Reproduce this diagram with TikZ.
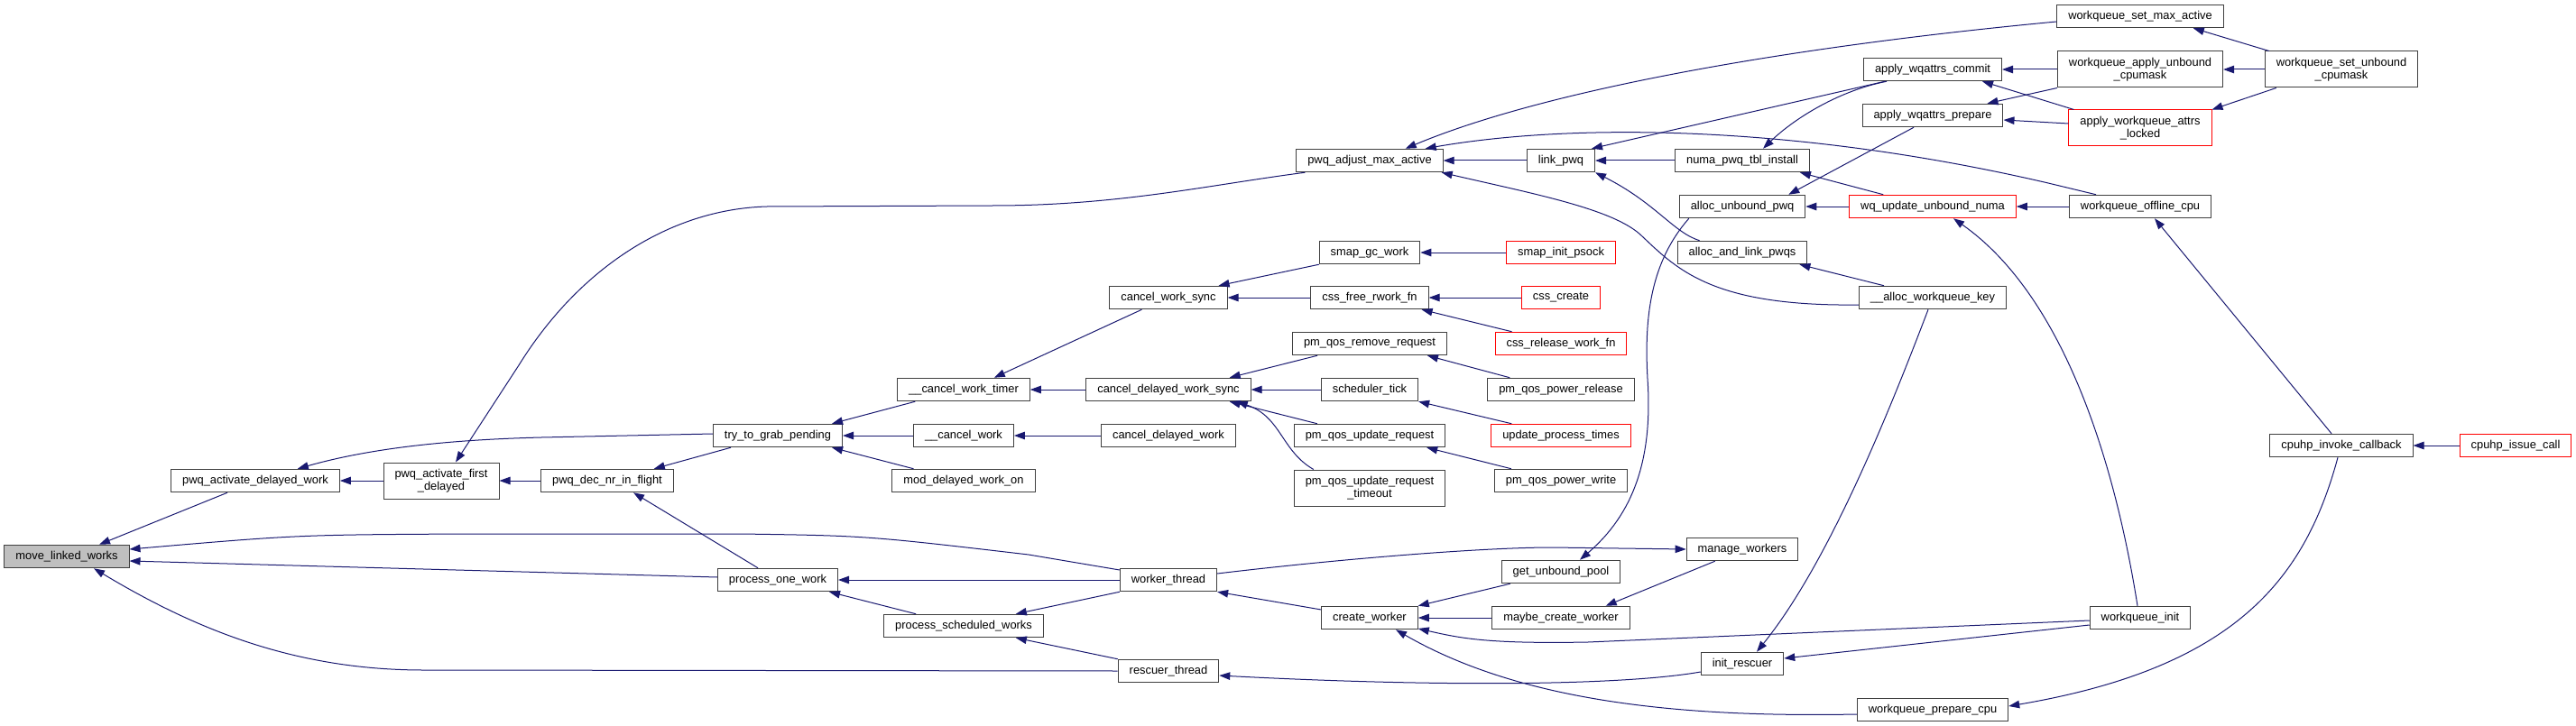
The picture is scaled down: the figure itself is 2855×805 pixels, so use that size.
\documentclass[tikz,border=0pt]{standalone}
\usepackage{fontspec}
\setmainfont{Liberation Sans}
\usetikzlibrary{arrows.meta}
\definecolor{edgeblue}{RGB}{25,25,112}
\definecolor{boxline}{RGB}{64,64,64}
\definecolor{rootfill}{RGB}{191,191,191}
\definecolor{cutred}{RGB}{255,0,0}

\begin{document}
\begin{tikzpicture}[x=1pt, y=-1pt,
  fnbox/.style={draw=boxline, line width=1pt, fill=white, inner xsep=12.5pt, inner ysep=0pt,
    minimum height=25.5pt, font=\fontsize{12.87}{14.5}\selectfont},
  twobox/.style={fnbox, align=center, minimum height=40pt},
  rootbox/.style={fnbox, fill=rootfill},
  redbox/.style={draw=cutred},
  call/.style={edgeblue, line width=1pt, -{Triangle[length=12pt, width=8.5pt]}}]
  \useasboundingbox (0,0) rectangle (2855,805);

  % Functions, one column per rank
  \node[rootbox] (mlw) at (74,617) {move\_linked\_works};

  \node[fnbox] (pad) at (283,533) {pwq\_activate\_delayed\_work};

  \node[twobox] (pafd) at (489,533) {pwq\_activate\_first\\\_delayed};

  \node[fnbox] (pdnif) at (673,533) {pwq\_dec\_nr\_in\_flight};

  \node[fnbox] (ttgp) at (862,483) {try\_to\_grab\_pending};
  \node[fnbox] (pow) at (862,643) {process\_one\_work};

  \node[fnbox] (cwt) at (1068,432) {\_\_cancel\_work\_timer};
  \node[fnbox] (cw) at (1068,483) {\_\_cancel\_work};
  \node[fnbox] (mdwo) at (1068,533) {mod\_delayed\_work\_on};
  \node[fnbox] (psw) at (1068,694) {process\_scheduled\_works};

  \node[fnbox] (cws) at (1295,330) {cancel\_work\_sync};
  \node[fnbox] (cdws) at (1295,432) {cancel\_delayed\_work\_sync};
  \node[fnbox] (cdw) at (1295,483) {cancel\_delayed\_work};
  \node[fnbox] (wt) at (1295,643) {worker\_thread};
  \node[fnbox] (rt) at (1295,744) {rescuer\_thread};

  \node[fnbox] (pama) at (1518,178) {pwq\_adjust\_max\_active};
  \node[fnbox] (sgw) at (1518,280) {smap\_gc\_work};
  \node[fnbox] (cfrf) at (1518,330) {css\_free\_rwork\_fn};
  \node[fnbox] (pqrr) at (1518,381) {pm\_qos\_remove\_request};
  \node[fnbox] (st) at (1518,432) {scheduler\_tick};
  \node[fnbox] (pqur) at (1518,483) {pm\_qos\_update\_request};
  \node[twobox] (pqurt) at (1518,541) {pm\_qos\_update\_request\\\_timeout};
  \node[fnbox] (crw) at (1518,685) {create\_worker};

  \node[fnbox] (lp) at (1730,178) {link\_pwq};
  \node[fnbox, redbox] (sip) at (1730,280) {smap\_init\_psock};
  \node[fnbox, redbox] (cc) at (1730,330) {css\_create};
  \node[fnbox, redbox] (crwf) at (1730,381) {css\_release\_work\_fn};
  \node[fnbox] (pqpr) at (1730,432) {pm\_qos\_power\_release};
  \node[fnbox, redbox] (upt) at (1730,483) {update\_process\_times};
  \node[fnbox] (pqpw) at (1730,533) {pm\_qos\_power\_write};
  \node[fnbox] (gup) at (1730,634) {get\_unbound\_pool};
  \node[fnbox] (mcw) at (1730,685) {maybe\_create\_worker};

  \node[fnbox] (npti) at (1931,178) {numa\_pwq\_tbl\_install};
  \node[fnbox] (aup) at (1931,229) {alloc\_unbound\_pwq};
  \node[fnbox] (aalp) at (1931,280) {alloc\_and\_link\_pwqs};
  \node[fnbox] (mw) at (1931,609) {manage\_workers};
  \node[fnbox] (ir) at (1931,736) {init\_rescuer};

  \node[fnbox] (awc) at (2142,77) {apply\_wqattrs\_commit};
  \node[fnbox] (awp) at (2142,128) {apply\_wqattrs\_prepare};
  \node[fnbox, redbox] (wuun) at (2142,229) {wq\_update\_unbound\_numa};
  \node[fnbox] (awk) at (2142,330) {\_\_alloc\_workqueue\_key};
  \node[fnbox] (wpc) at (2142,787) {workqueue\_prepare\_cpu};

  \node[fnbox] (wsma) at (2372,18) {workqueue\_set\_max\_active};
  \node[twobox] (wauc) at (2372,77) {workqueue\_apply\_unbound\\\_cpumask};
  \node[twobox, redbox] (awal) at (2372,142) {apply\_workqueue\_attrs\\\_locked};
  \node[fnbox] (woc) at (2372,229) {workqueue\_offline\_cpu};
  \node[fnbox] (wi) at (2372,685) {workqueue\_init};

  \node[twobox] (wsuc) at (2595,77) {workqueue\_set\_unbound\\\_cpumask};
  \node[fnbox] (cic) at (2595,494) {cpuhp\_invoke\_callback};

  \node[fnbox, redbox] (cic2) at (2788,494) {cpuhp\_issue\_call};

  % Calls into move_linked_works
  \draw[call] ([xshift=-31pt]pad.south) -- ([xshift=36pt]mlw.north);
  \draw[call] ([yshift=11pt]wt.west) -- (1140,615) .. controls (960,594) .. (820,592) -- (520,592)
    .. controls (330,593) .. ([yshift=8pt]mlw.east);
  \draw[call] ([yshift=3pt]pow.west) -- ([yshift=-5pt]mlw.east);
  \draw[call] (rt.west) -- (470,743) .. controls (330,743) and (220,700) .. ([xshift=30pt]mlw.south);

  % Second and third ranks
  \draw[call] (pafd) -- (pad);
  \draw[call] ([yshift=2pt]ttgp.west) -- (600,485) .. controls (480,488) and (400,500)
    .. ([xshift=-47pt]pad.north east);
  \draw[call] ([xshift=10pt]pama.south west) .. controls (1340,205) and (1240,228) .. (1100,228)
    -- (850,229) .. controls (740,232) and (640,300) .. (575,405) -- ([xshift=16pt]pafd.north);
  \draw[call] (pdnif) -- (pafd);
  \draw[call] ([xshift=20pt]ttgp.south west) -- ([xshift=-22pt]pdnif.north east);
  \draw[call] ([xshift=-22pt]pow.north) -- ([xshift=29pt]pdnif.south);

  % try_to_grab_pending and process_one_work
  \draw[call] ([xshift=20pt]cwt.south west) -- ([xshift=-12pt]ttgp.north east);
  \draw[call] (cw) -- (ttgp);
  \draw[call] ([xshift=24pt]mdwo.north west) -- ([xshift=-12pt]ttgp.south east);
  \draw[call] (wt) -- (pow);
  \draw[call] ([xshift=36pt]psw.north west) -- ([xshift=-10pt]pow.south east);
  \draw[call] (wt.south west) -- ([xshift=-31pt]psw.north east);
  \draw[call] (rt.north west) -- ([xshift=-31pt]psw.south east);

  % Cancel paths
  \draw[call] ([xshift=36pt]cws.south west) -- ([xshift=-40pt]cwt.north east);
  \draw[call] (cdws) -- (cwt);
  \draw[call] (cdw) -- (cw);
  \draw[call] (sgw.south west) -- ([xshift=-10pt]cws.north east);
  \draw[call] (cfrf) -- (cws);
  \draw[call] (sip) -- (sgw);
  \draw[call] (cc) -- (cfrf);
  \draw[call] ([xshift=19pt]crwf.north west) -- ([xshift=-8pt]cfrf.south east);
  \draw[call] ([xshift=28pt]pqrr.south west) -- ([xshift=-24pt]cdws.north east);
  \draw[call] (st) -- (cdws);
  \draw[call] ([xshift=26pt]pqur.north west) -- ([xshift=-24pt]cdws.south east);
  \draw[call] ([xshift=22pt]pqurt.north west) .. controls (1420,500) and (1420,462)
    .. ([xshift=-16pt]cdws.south east);
  \draw[call] ([xshift=25pt]pqpr.north west) -- ([xshift=-22pt]pqrr.south east);
  \draw[call] ([xshift=23pt]upt.north west) -- (st.south east);
  \draw[call] ([xshift=19pt]pqpw.north west) -- ([xshift=-21pt]pqur.south east);

  % pwq_adjust_max_active and the unbound pwq setup
  \draw[call] ([yshift=-6pt]wsma.west) .. controls (1950,55) and (1700,105) .. ([xshift=-42pt]pama.north east);
  \draw[call] ([xshift=30pt]woc.north west) -- (2270,203) .. controls (2000,140) and (1750,135)
    .. ([xshift=-20pt]pama.north east);
  \draw[call] (lp) -- (pama);
  \draw[call] ([yshift=-8pt]awk.west) .. controls (1900,340) and (1860,300) .. (1820,262)
    .. controls (1790,232) and (1700,215) .. ([xshift=-2pt]pama.south east);
  \draw[call] ([xshift=24pt]awc.south west) -- ([xshift=-4pt]lp.north east);
  \draw[call] (npti) -- (lp);
  \draw[call] ([xshift=25pt]aalp.north west) .. controls (1855,258) and (1835,225) .. (lp.south east);
  \draw[call] ([xshift=26pt]awc.south west) .. controls (2040,100) and (1990,130) .. ([xshift=23pt]npti.north);
  \draw[call] ([xshift=38pt]wuun.north west) -- ([xshift=-11pt]npti.south east);
  \draw[call] (wuun) -- (aup);
  \draw[call] ([xshift=-21pt]awp.south) -- ([xshift=-19pt]aup.north east);
  \draw[call] ([xshift=11pt]aup.south west) .. controls (1830,290) and (1822,350) .. (1826,420)
    .. controls (1832,510) and (1810,570) .. ([xshift=21pt]gup.north);
  \draw[call] ([xshift=28pt]awk.north west) -- ([xshift=-9pt]aalp.south east);
  \draw[call] (wauc) -- (awc);
  \draw[call] ([xshift=6pt]awal.north west) -- ([xshift=-22pt]awc.south east);
  \draw[call] (wauc.south west) -- ([xshift=-18pt]awp.north east);
  \draw[call] ([yshift=5pt]awal.west) -- ([yshift=-5pt]awp.east);
  \draw[call] (woc) -- (wuun);
  \draw[call] ([xshift=-3pt]wi.north) .. controls (2345,520) and (2290,330) .. ([xshift=23pt]wuun.south);

  % Worker creation
  \draw[call] ([yshift=7pt]wt.east) .. controls (1500,618) and (1650,607) .. (1720,607) -- (mw.west);
  \draw[call] ([xshift=32pt]mw.south west) -- ([xshift=-27pt]mcw.north east);
  \draw[call] ([xshift=10pt]gup.south west) -- (crw.north east);
  \draw[call] (mcw) -- (crw);
  \draw[call] ([yshift=9pt]crw.west) -- (wt.south east);
  \draw[call] ([yshift=-3pt]wi.west) -- (1760,712) .. controls (1650,714) and (1620,708) .. ([yshift=-12pt]crw.east);
  \draw[call] ([yshift=-5pt]wpc.west) .. controls (1850,796) and (1680,775) .. ([xshift=29pt]crw.south);
  \draw[call] ([yshift=-9pt]ir.west) .. controls (1800,760) and (1600,762) .. ([yshift=-5pt]rt.east);
  \draw[call] ([xshift=-5pt]awk.south) .. controls (2100,440) and (2030,620) .. ([xshift=16pt]ir.north);
  \draw[call] ([yshift=-8pt]wi.west) -- ([yshift=6pt]ir.east);

  % Right-most callers
  \draw[call] ([xshift=5pt]wsuc.north west) -- ([xshift=-34pt]wsma.south east);
  \draw[call] (wsuc) -- (wauc);
  \draw[call] ([xshift=13pt]wsuc.south west) -- (awal.north east);
  \draw[call] ([xshift=-11pt]cic.north) -- ([xshift=16pt]woc.south);
  \draw[call] ([xshift=-4pt]cic.south) .. controls (2555,640) and (2480,740) .. ([yshift=4pt]wpc.east);
  \draw[call] (cic2) -- (cic);
\end{tikzpicture}
\end{document}
